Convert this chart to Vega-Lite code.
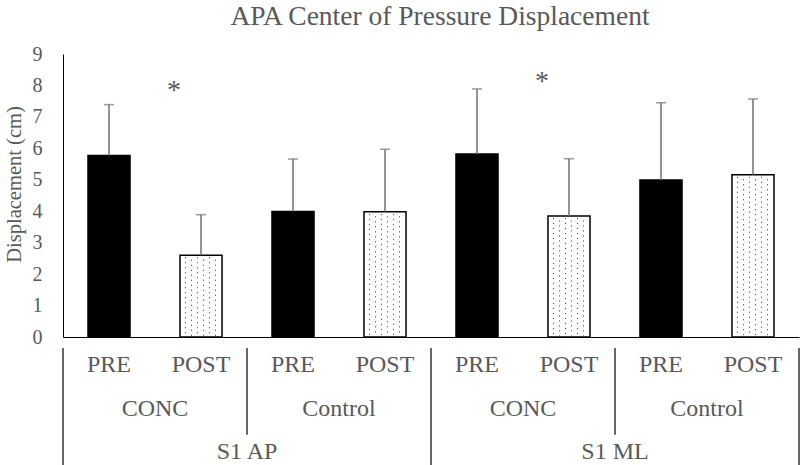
{
  "$schema": "https://vega.github.io/schema/vega-lite/v6.json",
  "padding": {"left": 4, "top": 2, "right": 0, "bottom": 0},
  "background": "white",
  "config": {
    "view": {"stroke": null},
    "font": "Liberation Serif",
    "text": {"font": "Liberation Serif", "color": "#595959"}
  },
  "spacing": 0,
  "datasets": {
    "bars": [
      {"bar": "AP-CONC-PRE", "time": "PRE", "mean": 5.77, "upper": 7.39},
      {"bar": "AP-CONC-POST", "time": "POST", "mean": 2.60, "upper": 3.89},
      {"bar": "AP-Control-PRE", "time": "PRE", "mean": 3.99, "upper": 5.66},
      {"bar": "AP-Control-POST", "time": "POST", "mean": 3.98, "upper": 5.97},
      {"bar": "ML-CONC-PRE", "time": "PRE", "mean": 5.82, "upper": 7.89},
      {"bar": "ML-CONC-POST", "time": "POST", "mean": 3.85, "upper": 5.67},
      {"bar": "ML-Control-PRE", "time": "PRE", "mean": 4.99, "upper": 7.45},
      {"bar": "ML-Control-POST", "time": "POST", "mean": 5.16, "upper": 7.57}
    ],
    "stars": [
      {"bar": "AP-CONC-POST", "label": "*", "level": 7.93},
      {"bar": "ML-CONC-POST", "label": "*", "level": 8.22}
    ],
    "groups": [
      {"gkey": "AP-CONC", "label": "CONC"},
      {"gkey": "AP-Control", "label": "Control"},
      {"gkey": "ML-CONC", "label": "CONC"},
      {"gkey": "ML-Control", "label": "Control"}
    ],
    "segments": [
      {"seg": "S1 AP"},
      {"seg": "S1 ML"}
    ]
  },
  "vconcat": [
    {
      "width": 736,
      "height": 283,
      "title": {
        "text": "APA Center of Pressure Displacement",
        "font": "Liberation Serif",
        "fontSize": 27.5,
        "fontWeight": "normal",
        "color": "#595959",
        "anchor": "middle",
        "dx": 9,
        "offset": 14
      },
      "data": {"name": "bars"},
      "encoding": {
        "x": {
          "field": "bar", "type": "nominal",
          "scale": {
            "domain": ["AP-CONC-PRE", "AP-CONC-POST", "AP-Control-PRE", "AP-Control-POST", "ML-CONC-PRE", "ML-CONC-POST", "ML-Control-PRE", "ML-Control-POST"],
            "paddingInner": 0.543, "paddingOuter": 0.2717
          },
          "axis": {"labels": false, "ticks": false, "title": null, "domain": true, "domainColor": "black", "domainWidth": 1, "grid": false}
        },
        "y": {
          "field": "mean", "type": "quantitative",
          "scale": {"domain": [0, 9], "nice": false},
          "axis": {
            "values": [0, 1, 2, 3, 4, 5, 6, 7, 8, 9],
            "tickCount": 10,
            "labelOverlap": false,
            "labelBound": false,
            "labelSeparation": 0,
            "title": "Displacement (cm)",
            "titleFont": "Liberation Serif", "titleFontSize": 20.5, "titleFontWeight": "normal", "titleColor": "#595959",
            "titlePadding": 8, "titleY": 130,
            "labelFont": "Liberation Serif", "labelFontSize": 20, "labelColor": "#595959",
            "labelPadding": 21, "ticks": false, "grid": false,
            "domainColor": "black", "domainWidth": 1
          }
        }
      },
      "layer": [
        {
          "mark": {"type": "bar", "stroke": "black", "strokeWidth": 1.5},
          "encoding": {
            "fill": {
              "field": "time", "type": "nominal",
              "scale": {"domain": ["PRE", "POST"], "range": ["black", "white"]},
              "legend": null
            }
          }
        },
        {
          "transform": [{"filter": "datum.time === 'POST'"}],
          "mark": {"type": "rule", "color": "#333333", "strokeWidth": 1, "strokeDash": [1, 4], "strokeDashOffset": 3},
          "encoding": {"x": {"field": "bar", "type": "nominal", "bandPosition": 0.131}, "y2": {"datum": 0}}
        },
        {
          "transform": [{"filter": "datum.time === 'POST'"}],
          "mark": {"type": "rule", "color": "#333333", "strokeWidth": 1, "strokeDash": [1, 4], "strokeDashOffset": 0.5},
          "encoding": {"x": {"field": "bar", "type": "nominal", "bandPosition": 0.274}, "y2": {"datum": 0}}
        },
        {
          "transform": [{"filter": "datum.time === 'POST'"}],
          "mark": {"type": "rule", "color": "#333333", "strokeWidth": 1, "strokeDash": [1, 4], "strokeDashOffset": 3},
          "encoding": {"x": {"field": "bar", "type": "nominal", "bandPosition": 0.417}, "y2": {"datum": 0}}
        },
        {
          "transform": [{"filter": "datum.time === 'POST'"}],
          "mark": {"type": "rule", "color": "#333333", "strokeWidth": 1, "strokeDash": [1, 4], "strokeDashOffset": 0.5},
          "encoding": {"x": {"field": "bar", "type": "nominal", "bandPosition": 0.560}, "y2": {"datum": 0}}
        },
        {
          "transform": [{"filter": "datum.time === 'POST'"}],
          "mark": {"type": "rule", "color": "#333333", "strokeWidth": 1, "strokeDash": [1, 4], "strokeDashOffset": 3},
          "encoding": {"x": {"field": "bar", "type": "nominal", "bandPosition": 0.702}, "y2": {"datum": 0}}
        },
        {
          "transform": [{"filter": "datum.time === 'POST'"}],
          "mark": {"type": "rule", "color": "#333333", "strokeWidth": 1, "strokeDash": [1, 4], "strokeDashOffset": 0.5},
          "encoding": {"x": {"field": "bar", "type": "nominal", "bandPosition": 0.845}, "y2": {"datum": 0}}
        },
        {
          "mark": {"type": "rule", "color": "#707070", "strokeWidth": 1.5},
          "encoding": {"y2": {"field": "upper"}}
        },
        {
          "mark": {"type": "tick", "color": "#707070", "thickness": 1.5, "size": 10, "orient": "horizontal"},
          "encoding": {"y": {"field": "upper", "type": "quantitative"}}
        },
        {
          "data": {"name": "stars"},
          "mark": {"type": "text", "font": "Liberation Serif", "fontSize": 28, "color": "#595959", "baseline": "middle", "dx": -27, "dy": 3},
          "encoding": {"y": {"field": "level", "type": "quantitative"}, "text": {"field": "label"}}
        }
      ]
    },
    {
      "width": 736,
      "height": 130,
      "layer": [
        {
          "data": {"name": "bars"},
          "mark": {"type": "text", "font": "Liberation Serif", "fontSize": 24, "color": "#595959", "baseline": "middle"},
          "encoding": {
            "x": {"field": "bar", "type": "nominal", "sort": null, "scale": {"paddingInner": 0, "paddingOuter": 0}, "axis": null},
            "y": {"datum": 2.6, "type": "quantitative", "scale": {"domain": [0, 3], "nice": false}, "axis": null},
            "text": {"field": "time"}
          }
        },
        {
          "data": {"name": "groups"},
          "mark": {"type": "text", "font": "Liberation Serif", "fontSize": 24, "color": "#595959", "baseline": "middle"},
          "encoding": {
            "x": {"field": "gkey", "type": "nominal", "sort": null, "scale": {"paddingInner": 0, "paddingOuter": 0}, "axis": null},
            "y": {"datum": 1.59, "type": "quantitative"},
            "text": {"field": "label"}
          }
        },
        {
          "data": {"name": "segments"},
          "mark": {"type": "text", "font": "Liberation Serif", "fontSize": 24, "color": "#595959", "baseline": "middle"},
          "encoding": {
            "x": {"field": "seg", "type": "nominal", "sort": null, "scale": {"paddingInner": 0, "paddingOuter": 0}, "axis": null},
            "y": {"datum": 0.6, "type": "quantitative"},
            "text": {"field": "seg"}
          }
        },
        {
          "data": {"name": "groups"},
          "transform": [{"filter": "datum.label === 'Control'"}],
          "mark": {"type": "rule", "color": "black", "strokeWidth": 1.2},
          "encoding": {
            "x": {"field": "gkey", "type": "nominal", "sort": null, "bandPosition": 0, "scale": {"domain": ["AP-CONC", "AP-Control", "ML-CONC", "ML-Control"], "paddingInner": 0, "paddingOuter": 0}, "axis": null},
            "y": {"datum": 3, "type": "quantitative"},
            "y2": {"datum": 1}
          }
        },
        {
          "data": {"name": "segments"},
          "mark": {"type": "rule", "color": "black", "strokeWidth": 1.2},
          "encoding": {
            "x": {"field": "seg", "type": "nominal", "sort": null, "bandPosition": 0, "scale": {"domain": ["S1 AP", "S1 ML"], "paddingInner": 0, "paddingOuter": 0}, "axis": null},
            "y": {"datum": 3, "type": "quantitative"},
            "y2": {"datum": 0}
          }
        },
        {
          "data": {"name": "segments"},
          "transform": [{"filter": "datum.seg === 'S1 ML'"}],
          "mark": {"type": "rule", "color": "black", "strokeWidth": 1.2},
          "encoding": {
            "x": {"field": "seg", "type": "nominal", "sort": null, "bandPosition": 1, "scale": {"domain": ["S1 AP", "S1 ML"], "paddingInner": 0, "paddingOuter": 0}, "axis": null},
            "y": {"datum": 3, "type": "quantitative"},
            "y2": {"datum": 0}
          }
        }
      ],
      "resolve": {"scale": {"x": "independent"}}
    }
  ]
}
